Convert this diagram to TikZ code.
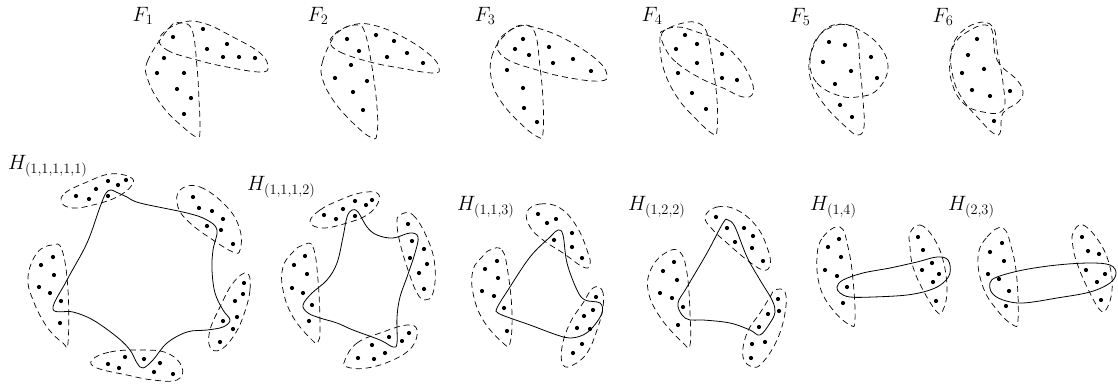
\documentclass[tikz,border=0pt]{standalone}
\begin{document}
\begin{tikzpicture}[x=1pt,y=-1pt,
  grp/.style={line width=0.7pt, dash pattern=on 6pt off 4pt},
  hedge/.style={line width=0.8pt},
  lbl/.style={inner sep=0pt, font=\fontsize{20}{24}\selectfont}]
\useasboundingbox (0,0) rectangle (1118,388);
\newcommand{\ptset}[1]{\foreach \p in {#1} \fill \p circle (2.1pt);}
% ---------------- F1
\node[lbl] (f1) at (143,16) {$F_1$};
\draw[grp] plot[smooth cycle, tension=0.7] coordinates {(170,27) (148,60) (148,80) (163,107) (183,127) (197,137) (200,130) (199,100) (197,67) (192,30) (180,23)};
\draw[grp] plot[smooth cycle, tension=0.7] coordinates {(160,37) (167,50) (197,60) (227,67) (260,72) (268,67) (260,53) (233,37) (203,23) (180,23)};
\ptset{(173,37),(203,29),(227,44),(207,49),(223,57),(239,57),(255,58),(164,58),(157,73),(184,73),(177,89),(191,98),(184,114)}
% ---------------- F2
\node[lbl] (f2) at (318,16) {$F_2$};
\draw[grp] plot[smooth cycle, tension=0.7] coordinates {(333,38) (323,60) (322,77) (333,100) (353,123) (372,138) (377,133) (377,107) (372,67) (365,33) (357,25) (340,30)};
\draw[grp] plot[smooth cycle, tension=0.7] coordinates {(330,42) (340,52) (370,62) (400,68) (433,73) (439,68) (430,55) (403,37) (373,25) (352,25) (337,33)};
\ptset{(347,39),(376,35),(394,41),(359,51),(387,57),(407,53),(423,63),(351,65),(335,78),(367,81),(353,92),(363,110)}
% ---------------- F3
\node[lbl] (f3) at (485,16) {$F_3$};
\draw[grp] plot[smooth cycle, tension=0.7] coordinates {(507,33) (493,53) (491,77) (500,100) (520,123) (538,137) (543,133) (543,100) (540,67) (535,33) (523,25)};
\draw[grp] plot[smooth cycle, tension=0.7] coordinates {(498,42) (505,58) (537,70) (570,78) (600,81) (607,75) (597,60) (567,40) (537,28) (517,27)};
\ptset{(523,39),(515,49),(529,55),(549,47),(553,63),(573,59),(591,71),(507,70),(523,88),(524,108),(537,122)}
% ---------------- F4
\node[lbl] (f4) at (652,16) {$F_4$};
\draw[grp] plot[smooth cycle, tension=0.7] coordinates {(660,37) (663,67) (677,97) (697,120) (713,134) (717,130) (717,100) (712,60) (707,33) (698,23) (683,23) (665,30)};
\draw[grp] plot[smooth cycle, tension=0.7] coordinates {(665,48) (677,63) (700,78) (723,88) (743,97) (753,93) (750,77) (737,57) (717,40) (697,32) (677,27) (662,33)};
\ptset{(685,35),(697,44),(676,49),(722,54),(697,63),(678,73),(722,78),(737,80),(692,93),(706,109)}
% ---------------- F5
\node[lbl] (f5) at (800,17) {$F_5$};
\draw[grp] plot[smooth cycle, tension=0.7] coordinates {(810,63) (817,83) (837,95) (857,97) (877,90) (888,67) (877,43) (853,27) (837,25) (817,38)};
\draw[grp] plot[smooth cycle, tension=0.7] coordinates {(847,25) (857,33) (860,67) (863,100) (864,127) (858,135) (847,128) (823,103) (810,77) (812,50) (827,28)};
\ptset{(829,42),(845,45),(823,62),(871,57),(851,71),(877,78),(835,84),(840,105),(852,117)}
% ---------------- F6
\node[lbl] (f6) at (943,17) {$F_6$};
\draw[grp] plot[smooth cycle, tension=0.7] coordinates {(977,23) (957,37) (950,60) (952,83) (963,103) (983,112) (1003,110) (1003,83) (997,50) (993,27)};
\draw[grp] plot[smooth cycle, tension=0.7] coordinates {(990,27) (997,60) (1017,80) (1023,93) (1017,103) (1003,113) (1000,133) (993,133) (980,120) (963,100) (953,77) (952,50) (967,32)};
\ptset{(977,39),(968,55),(984,69),(962,73),(972,90),(990,96),(1010,91),(994,121)}
% ---------------- H(1,1,1,1,1)
\node[lbl, anchor=west] (h11111) at (8,166) {$H_{(1,1,1,1,1)}$};
\draw[grp] plot[smooth cycle, tension=0.7] coordinates {(62,203) (65,193) (87,182) (110,174) (130,177) (132,185) (117,197) (93,205) (73,208)};
\ptset{(76,196),(89,199),(96,189),(108,181),(118,185),(126,180),(108,196)}
\draw[grp] plot[smooth cycle, tension=0.7] coordinates {(180,190) (200,187) (227,207) (240,230) (240,250) (233,252) (213,240) (190,223) (178,207)};
\ptset{(193,197),(199,208),(212,211),(223,219),(207,226),(221,230),(233,244)}
\draw[grp] plot[smooth cycle, tension=0.7] coordinates {(247,273) (250,290) (243,317) (233,337) (220,350) (210,347) (210,330) (220,307) (233,283)};
\ptset{(244,283),(243,294),(235,301),(237,317),(223,321),(233,329),(220,342)}
\draw[grp] plot[smooth cycle, tension=0.7] coordinates {(92,360) (110,352) (140,350) (167,353) (182,367) (177,380) (153,380) (127,375) (97,368)};
\ptset{(108,364),(119,368),(125,357),(144,359),(160,363),(154,372),(173,374)}
\draw[grp] plot[smooth cycle, tension=0.7] coordinates {(52,245) (62,250) (68,290) (68,343) (63,343) (47,327) (33,300) (28,277) (37,253)};
\ptset{(53,257),(41,265),(54,275),(39,287),(50,293),(61,301),(60,323)}
\draw[hedge] plot[smooth cycle, tension=0.6] coordinates {(53,309) (67,280) (87,243) (100,207) (106,193) (111,190) (116,192) (127,197) (140,203) (187,213) (207,220) (217,230) (213,250) (212,270) (215,293) (223,310) (230,320) (223,327) (207,330) (187,332) (167,343) (153,360) (143,368) (137,363) (130,350) (117,337) (93,320) (73,312)};
% ---------------- H(1,1,1,2)
\node[lbl, anchor=west] (h1112) at (247,187) {$H_{(1,1,1,2)}$};
\draw[grp] plot[smooth cycle, tension=0.7] coordinates {(310,222) (320,210) (340,200) (360,193) (377,193) (378,203) (367,215) (347,223) (323,228)};
\ptset{(324,215),(336,219),(343,209),(355,201),(366,205),(372,200),(355,216)}
\draw[grp] plot[smooth cycle, tension=0.7] coordinates {(400,215) (413,215) (428,240) (435,267) (433,293) (425,300) (417,293) (408,270) (400,243) (397,223)};
\ptset{(408,224),(412,241),(424,249),(410,258),(427,264),(419,273),(424,289)}
\draw[grp] plot[smooth cycle, tension=0.7] coordinates {(345,360) (357,343) (383,332) (407,325) (417,330) (412,347) (393,360) (367,368) (347,367)};
\ptset{(358,358),(374,359),(385,353),(372,345),(389,337),(402,341),(409,333)}
\draw[grp] plot[smooth cycle, tension=0.7] coordinates {(303,245) (313,247) (318,280) (320,327) (318,342) (312,340) (293,317) (283,290) (283,267) (293,252)};
\ptset{(305,256),(294,265),(307,274),(292,288),(303,293),(312,305),(309,321)}
\draw[hedge] plot[smooth cycle, tension=0.6] coordinates {(303,305) (312,293) (327,280) (337,263) (343,237) (347,217) (352,210) (358,212) (367,227) (377,235) (393,238) (410,233) (418,237) (415,253) (407,277) (400,297) (397,317) (397,343) (393,347) (380,340) (353,330) (337,323) (320,318) (308,313)};
% ---------------- H(1,1,3)
\node[lbl, anchor=west] (h113) at (457,207) {$H_{(1,1,3)}$};
\draw[grp] plot[smooth cycle, tension=0.7] coordinates {(527,212) (540,204) (560,208) (577,227) (588,253) (590,265) (583,267) (563,253) (543,240) (530,227)};
\ptset{(538,214),(547,223),(556,219),(572,233),(572,247),(554,240),(582,258)}
\draw[grp] plot[smooth cycle, tension=0.7] coordinates {(490,250) (502,250) (508,273) (512,313) (510,343) (503,343) (483,320) (473,293) (473,270) (482,257)};
\ptset{(497,261),(485,269),(498,278),(482,291),(494,296),(504,308),(507,331)}
\draw[grp] plot[smooth cycle, tension=0.7] coordinates {(593,288) (602,290) (603,307) (597,330) (587,353) (573,365) (563,365) (562,347) (570,323) (583,303)};
\ptset{(596,297),(593,310),(584,316),(590,329),(577,328),(582,344),(573,353)}
\draw[hedge] plot[smooth cycle, tension=0.6] coordinates {(497,308) (508,290) (530,257) (550,237) (558,230) (563,235) (567,263) (577,290) (585,300) (600,303) (602,313) (593,327) (583,335) (570,338) (557,335) (530,325) (510,318) (498,313)};
% ---------------- H(1,2,2)
\node[lbl, anchor=west] (h122) at (628,207) {$H_{(1,2,2)}$};
\draw[grp] plot[smooth cycle, tension=0.7] coordinates {(705,217) (717,207) (737,210) (757,227) (768,250) (770,265) (763,270) (747,260) (727,243) (713,230)};
\ptset{(716,217),(727,228),(744,228),(753,236),(735,242),(752,248),(763,261)}
\draw[grp] plot[smooth cycle, tension=0.7] coordinates {(667,252) (680,252) (687,273) (690,313) (690,345) (683,343) (660,317) (648,290) (652,267)};
\ptset{(674,262),(663,271),(677,280),(660,293),(672,298),(683,307),(678,325)}
\draw[grp] plot[smooth cycle, tension=0.7] coordinates {(775,290) (785,292) (785,313) (777,340) (763,362) (753,367) (743,357) (747,333) (760,313) (770,297)};
\ptset{(778,299),(779,311),(768,314),(759,327),(752,344),(765,342),(751,358)}
\draw[hedge] plot[smooth cycle, tension=0.6] coordinates {(678,303) (687,287) (707,253) (723,223) (728,220) (735,227) (747,257) (760,280) (772,300) (775,312) (770,323) (760,335) (750,330) (730,323) (703,320) (690,320) (682,315)};
% ---------------- H(1,4)
\node[lbl, anchor=west] (h14) at (810,207) {$H_{(1,4)}$};
\draw[grp] plot[smooth cycle, tension=0.7] coordinates {(817,257) (823,237) (840,227) (848,247) (853,280) (855,320) (850,325) (833,310) (820,287)};
\ptset{(839,239),(828,247),(841,257),(825,270),(837,276),(847,287),(843,303)}
\draw[grp] plot[smooth cycle, tension=0.7] coordinates {(910,233) (920,225) (933,237) (943,260) (947,290) (943,310) (937,312) (923,290) (913,267) (910,247)};
\ptset{(918,237),(923,250),(932,263),(922,270),(939,274),(933,282),(936,301)}
\draw[hedge] plot[smooth cycle, tension=0.6] coordinates {(837,287) (843,280) (863,273) (890,268) (917,262) (937,257) (948,260) (950,273) (943,283) (930,290) (907,295) (873,297) (850,297) (840,293)};
% ---------------- H(2,3)
\node[lbl, anchor=west] (h23) at (948,207) {$H_{(2,3)}$};
\draw[grp] plot[smooth cycle, tension=0.7] coordinates {(978,257) (987,237) (1003,228) (1012,250) (1017,280) (1018,320) (1013,325) (997,310) (983,287)};
\ptset{(1002,243),(990,252),(1004,261),(988,274),(999,279),(1009,291),(1006,306)}
\draw[grp] plot[smooth cycle, tension=0.7] coordinates {(1073,233) (1083,225) (1100,243) (1110,267) (1112,290) (1107,308) (1100,310) (1087,287) (1077,263) (1073,247)};
\ptset{(1082,237),(1088,251),(1099,254),(1086,270),(1105,274),(1097,282),(1101,300)}
\draw[hedge] plot[smooth cycle, tension=0.6] coordinates {(990,283) (997,277) (1023,270) (1057,265) (1090,263) (1110,265) (1116,273) (1110,283) (1090,292) (1057,298) (1023,303) (1003,300) (992,293)};
\end{tikzpicture}
\end{document}
